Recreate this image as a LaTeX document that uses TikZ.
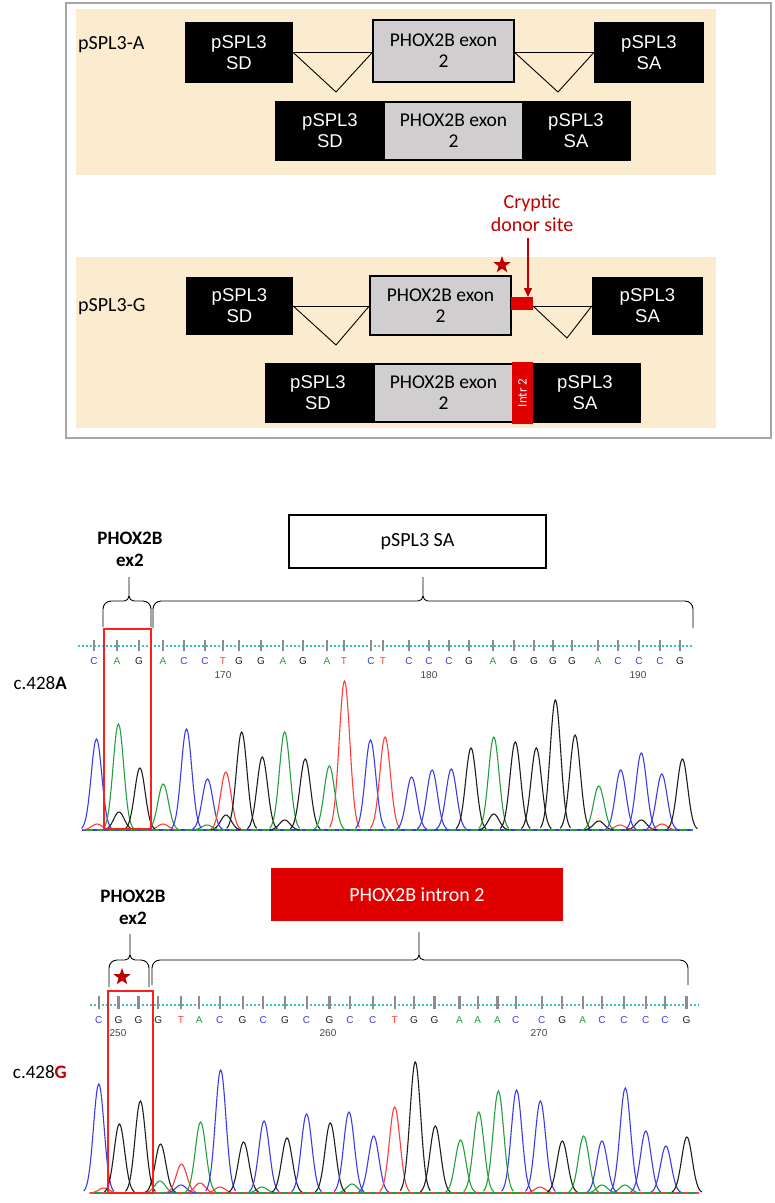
\documentclass[tikz,border=0pt]{standalone}
\usepackage{fontspec}
\setmainfont{Carlito}
\newfontfamily\arialf{Liberation Sans}
\usetikzlibrary{shapes.geometric,arrows.meta}
\definecolor{beige}{RGB}{252,236,207}
\definecolor{exgray}{RGB}{208,206,206}
\definecolor{boxred}{RGB}{224,0,0}
\definecolor{darkred}{RGB}{192,0,0}
\definecolor{framegray}{RGB}{166,166,166}
\definecolor{pC}{RGB}{60,60,230}
\definecolor{pA}{RGB}{35,160,60}
\definecolor{pG}{RGB}{30,30,30}
\definecolor{pT}{RGB}{255,60,60}
\definecolor{dotcyan}{RGB}{50,200,200}
\definecolor{rectred}{RGB}{255,30,30}
\definecolor{tickgray}{RGB}{140,140,140}
\definecolor{numgray}{RGB}{70,70,70}
\newcommand\mybrace[6]{%
\draw[braceline] (#1,#3) -- (#1,#4+8) .. controls (#1,#4+3.6) and (#1+3.6,#4) .. (#1+8,#4) -- (#5-5,#4) .. controls (#5-2.25,#4) and (#5,#4-2.25) .. (#5,#4-5) -- (#5,#6);
\draw[braceline] (#5,#4-5) .. controls (#5,#4-2.25) and (#5+2.25,#4) .. (#5+5,#4) -- (#2-8,#4) .. controls (#2-3.6,#4) and (#2,#4+3.6) .. (#2,#4+8) -- (#2,#3);}
\newcommand\mypeaks[2]{%
\foreach \px/\ph/\pc in {#2} {
  \pgfmathsetmacro\lo{\px-15}\pgfmathsetmacro\hi{\px+15}
  \draw[\pc, line width=1.1] plot[domain=\lo:\hi, samples=31, smooth, variable=\t] (\t,{#1-\ph*exp(-((\t-\px)^2)/56)});
}}
\begin{document}
\begin{tikzpicture}[x=1pt,y=-1pt,
  blkbox/.style={fill=black, draw=none, text=white, inner sep=0, align=center, font=\arialf\fontsize{18.5}{21}\selectfont},
  blktext/.style={text=white, inner sep=0, align=center, font=\arialf\fontsize{18.5}{21}\selectfont},
  exbox/.style={fill=exgray, draw=black, line width=1.5, inner sep=0, align=center, font=\fontsize{19.5}{21}\selectfont},
  plainlabel/.style={font=\fontsize{20}{22}\selectfont, inner sep=0},
  conn/.style={line width=0.9, black},
  braceline/.style={line width=0.9, black},
  basefont/.style={font=\arialf\fontsize{10}{10}\selectfont, inner sep=0},
  numfont/.style={font=\arialf\fontsize{10}{10}\selectfont, inner sep=0, text=numgray},
  redstar/.style={star, star points=5, star point ratio=2.5, fill=darkred, inner sep=0, minimum size=18},
  bold label/.style={font=\bfseries\fontsize{19}{22}\selectfont, align=center, inner sep=0},
  cdot/.style={dotcyan, line width=2, dash pattern=on 1.6pt off 2.4pt},
  tick/.style={tickgray, line width=2.2}]
\useasboundingbox[fill=white] (0,0) rectangle (775,1203);

% ---------------- top panel ----------------
\draw[framegray, line width=1.5] (66,3) rectangle (771,438);
\fill[beige] (76,9) rectangle (716,175);
\fill[beige] (76,257) rectangle (716,428);

% pSPL3-A
\node[plainlabel, anchor=west] (labPA) at (78,45) {pSPL3-A};
\node[blkbox, minimum width=108, minimum height=61] (sdA) at (239,52.5) {pSPL3\\SD};
\node[exbox, minimum width=141, minimum height=62] (exA) at (443.5,51) {PHOX2B exon\\2};
\node[blkbox, minimum width=110, minimum height=61] (saA) at (649,52.5) {pSPL3\\SA};
\coordinate (vA1) at (336,92);
\coordinate (vA2) at (558,92);
\draw[conn] (sdA.east) -- (exA.west |- sdA.east);
\draw[conn] (sdA.east) -- (vA1) -- (exA.west |- sdA.east);
\draw[conn] (exA.east |- saA.west) -- (saA.west);
\draw[conn] (exA.east |- saA.west) -- (vA2) -- (saA.west);

\node[fill=black, minimum width=356, minimum height=60, inner sep=0] (rowA) at (453,131) {};
\node[fill=exgray, minimum width=137, minimum height=56, inner sep=0, align=center, font=\fontsize{19.5}{21}\selectfont] (exA2) at (453.5,131) {PHOX2B exon\\2};
\node[blktext] (sdA2) at (330,131) {pSPL3\\SD};
\node[blktext] (saA2) at (576,131) {pSPL3\\SA};

% cryptic donor site
\node[font=\fontsize{20}{23}\selectfont, text=darkred, align=center, inner sep=0] (crypt) at (532,213.5) {Cryptic\\donor site};

% pSPL3-G
\node[plainlabel, anchor=west] (labPG) at (78,307) {pSPL3-G};
\node[blkbox, minimum width=107, minimum height=58] (sdG) at (239.5,306) {pSPL3\\SD};
\node[exbox, minimum width=141, minimum height=59] (exG) at (440.5,305.5) {PHOX2B exon\\2};
\node[fill=boxred, minimum width=22, minimum height=13, inner sep=0] (redG) at (522,303.5) {};
\node[blkbox, minimum width=111, minimum height=58] (saG) at (647.5,306) {pSPL3\\SA};
\node[redstar] (starG) at (502,265) {};
\coordinate (arrtip) at (528,297);
\draw[darkred, line width=1.3, -{Triangle[length=9pt,width=8pt]}, shorten <=6pt] (crypt.south -| arrtip) -- (arrtip);
\coordinate (vG1) at (336,345);
\coordinate (vG2) at (567,338);
\coordinate (rj) at (533,306);
\draw[conn] (sdG.east) -- (exG.west |- sdG.east);
\draw[conn] (sdG.east) -- (vG1) -- (exG.west |- sdG.east);
\draw[conn] (rj) -- (saG.west |- rj);
\draw[conn] (rj) -- (vG2) -- (saG.west |- rj);

\node[fill=black, minimum width=376, minimum height=60, inner sep=0] (rowG) at (453,393) {};
\node[fill=exgray, minimum width=137, minimum height=56, inner sep=0, align=center, font=\fontsize{19.5}{21}\selectfont] (exG2) at (443.5,393) {PHOX2B exon\\2};
\node[fill=boxred, minimum width=21, minimum height=62, inner sep=0] (intrG) at (522.5,393) {};
\node[rotate=90, text=white, font=\fontsize{13}{13}\selectfont, inner sep=0] (intrT) at (522.5,393) {Intr 2};
\node[blktext] (sdG2) at (318,393) {pSPL3\\SD};
\node[blktext] (saG2) at (585,393) {pSPL3\\SA};

% ---------------- chromatogram c.428A ----------------
\node[draw=black, line width=1.2, minimum width=257, minimum height=53, inner sep=0, font=\fontsize{20}{22}\selectfont] (saBox) at (417.5,541.5) {pSPL3 SA};
\node[bold label] (ex2A) at (130,549) {PHOX2B\\ex2};
\mybrace{103}{151}{627}{601}{129}{577}
\mybrace{153}{693}{628}{601}{423}{577}
\node[anchor=east, font=\fontsize{19}{22}\selectfont, inner sep=0] (labA) at (67,683) {c.428\textbf{A}};

\draw[cdot] (78,646) -- (693,646);
\foreach \bx/\bl/\bc [count=\i] in {94/C/pC,117/A/pA,139/G/pG,163/A/pA,184/C/pC,205/C/pC,223/T/pT,239/G/pG,261/G/pG,283/A/pA,303/G/pG,327/A/pA,344/T/pT,371/C/pC,383/T/pT,409/C/pC,429/C/pC,449/C/pC,469/G/pG,493/A/pA,514/G/pG,534/G/pG,553/G/pG,572/G/pG,598/A/pA,618/C/pC,639/C/pC,660/C/pC,680/G/pG} {
  \draw[tick] (\bx,640) -- (\bx,651);
  \node[basefont, text=\bc] (lA\i) at (\bx,661) {\bl};
}
\node[numfont] (nA1) at (223,675) {170};
\node[numfont] (nA2) at (429,675) {180};
\node[numfont] (nA3) at (638,675) {190};

\draw[pA, line width=1.2] (82,830) -- (693,830);
\draw[pC, line width=1.2, dash pattern=on 4pt off 7pt] (82,830) -- (693,830);
\mypeaks{830}{119/18/pG,226/15/pG,284.7/10/pG,493.8/16/pG,598.8/9/pG,641.3/10/pG,620/5/pT,662/6/pT,163/6/pT,97/6/pT,207/5/pA}
\mypeaks{830}{96.5/91/pC,118.4/106/pA,139.9/62/pG,163.2/46/pA,186.5/101/pC,207.5/51/pC,225.8/58/pT,241.7/98/pG,262.3/73/pG,284.7/98/pA,305.2/71/pG,329.4/64/pA,344.5/149/pT,370.5/90/pC,385.1/93/pT,411.6/53/pC,432.1/60/pC,451.3/61/pC,471/82/pG,493.8/93/pA,515.3/88/pG,536.3/82/pG,555.4/130/pG,575.1/95/pG,598.8/44/pA,620.7/60/pC,641.3/77/pC,661.8/56/pC,682.4/71/pG}
\node[draw=rectred, line width=2, minimum width=47, minimum height=200, inner sep=0] (boxA) at (127.5,729) {};

% ---------------- chromatogram c.428G ----------------
\node[fill=boxred, text=white, minimum width=292, minimum height=53, inner sep=0, font=\fontsize{20}{22}\selectfont] (intronBox) at (417,894.5) {PHOX2B intron 2};
\node[bold label] (ex2G) at (133,907) {PHOX2B\\ex2};
\mybrace{109}{149}{987}{960}{130}{934}
\mybrace{152}{688}{985}{960}{419}{932}
\node[redstar] (starEx) at (122,977) {};
\node[anchor=east, font=\fontsize{19}{22}\selectfont, inner sep=0] (labG) at (67,1072) {c.428\textbf{\color{darkred}G}};

\draw[cdot] (90,1005) -- (699,1005);
\foreach \bx/\bl/\bc [count=\i] in {98.8/C/pC,118.4/G/pG,138.5/G/pG,158.2/G/pG,181/T/pT,199.3/A/pA,219.8/C/pC,242.6/G/pG,263.2/C/pC,285.1/G/pG,306.6/C/pC,329.4/G/pG,350/C/pC,372.8/C/pC,394.7/T/pT,413.9/G/pG,434.4/G/pG,459.5/A/pA,477.8/A/pA,497.4/A/pA,515.7/C/pC,541.7/C/pC,562.3/G/pG,582.8/A/pA,602/C/pC,623.9/C/pC,645.8/C/pC,665/C/pC,686.5/G/pG} {
  \draw[tick] (\bx,996) -- (\bx,1009);
  \node[basefont, text=\bc] (lG\i) at (\bx,1020) {\bl};
}
\node[numfont] (nG1) at (118,1033) {250};
\node[numfont] (nG2) at (328,1033) {260};
\node[numfont] (nG3) at (539,1033) {270};

\draw[pA, line width=1.2] (90,1193) -- (699,1193);
\draw[pT, line width=1.2, dash pattern=on 4pt off 7pt] (90,1193) -- (699,1193);
\mypeaks{1193}{160/12/pA,181/8/pC,220/6/pT,104/5/pT,352/9/pA,262/6/pA,200/10/pT,540/6/pT,602/8/pA,625/8/pA}
\mypeaks{1193}{98.8/109/pC,119.4/69/pG,140.4/92/pG,160.5/49/pG,181.5/29/pT,200.6/71/pA,220.7/123/pC,243.6/51/pG,264.1/72/pC,287/55/pG,306.6/79/pC,330.3/70/pG,349/81/pC,373.7/57/pC,394.7/86/pT,415.3/131/pG,435.3/67/pG,460.5/53/pA,478.7/81/pA,498.4/102/pA,516.6/103/pC,540.4/92/pC,562.3/52/pG,583.7/57/pA,602/52/pC,625.3/105/pC,645.8/62/pC,665.9/47/pC,686.9/56/pG}
\node[draw=rectred, line width=2, minimum width=45, minimum height=202, inner sep=0] (boxG) at (130.5,1092) {};
\end{tikzpicture}
\end{document}
